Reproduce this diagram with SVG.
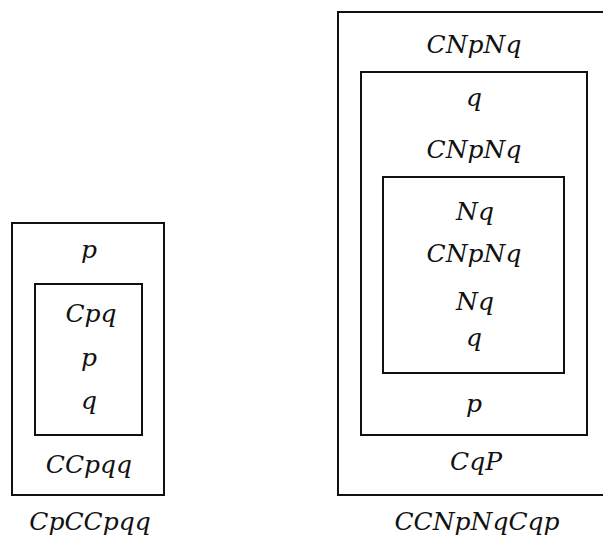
<svg xmlns="http://www.w3.org/2000/svg" width="603" height="537" viewBox="0 0 603 537">
  <style>
    .box { fill: none; stroke: #111; stroke-width: 2; }
    .t { font-family: "DejaVu Serif", "Liberation Serif", serif; font-style: italic; font-size: 25px; fill: #111; text-anchor: middle; }
  </style>
  <rect width="603" height="537" fill="#fff"/>

  <!-- left proof: CpCCpqq -->
  <g id="left-outer">
    <rect class="box" x="12" y="223" width="152" height="272"/>
    <text class="t" x="89" y="258">p</text>
    <text class="t" x="89" y="473">CCpqq</text>
  </g>
  <g id="left-inner">
    <rect class="box" x="35" y="284" width="107" height="151"/>
    <text class="t" x="91" y="322">Cpq</text>
    <text class="t" x="89" y="366">p</text>
    <text class="t" x="89" y="409">q</text>
  </g>
  <g id="left-label">
    <text class="t" x="90" y="530">CpCCpqq</text>
  </g>

  <!-- right proof: CCNpNqCqp -->
  <g id="right-outer">
    <rect class="box" x="338" y="12" width="280" height="483"/>
    <text class="t" x="474" y="53">CNpNq</text>
  </g>
  <g id="right-middle">
    <rect class="box" x="361" y="72" width="226" height="363"/>
    <text class="t" x="474" y="106">q</text>
    <text class="t" x="474" y="158">CNpNq</text>
    <text class="t" x="474" y="412">p</text>
    <text class="t" x="476" y="470">CqP</text>
  </g>
  <g id="right-inner">
    <rect class="box" x="383" y="177" width="181" height="196"/>
    <text class="t" x="475" y="220">Nq</text>
    <text class="t" x="474" y="262">CNpNq</text>
    <text class="t" x="475" y="310">Nq</text>
    <text class="t" x="474" y="346">q</text>
  </g>
  <g id="right-label">
    <text class="t" x="477" y="530">CCNpNqCqp</text>
  </g>
</svg>
